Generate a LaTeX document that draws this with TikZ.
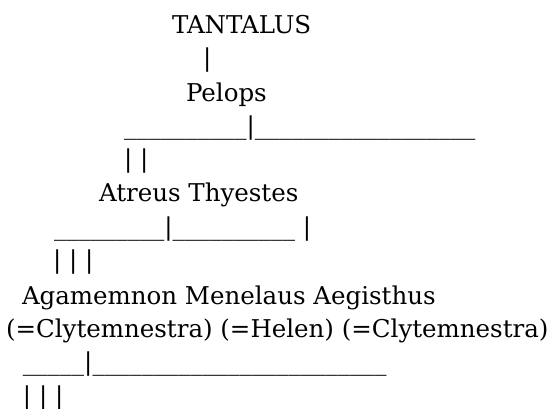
\documentclass[tikz,border=0pt]{standalone}
\usepackage{fontspec}
\setmainfont{DejaVu Serif}
\tikzset{
  line/.style={anchor=base west, inner sep=0pt, outer sep=0pt, font=\fontsize{24.5}{30}\selectfont}
}
\begin{document}
\begin{tikzpicture}[x=1pt,y=1pt]
\useasboundingbox (0,0) rectangle (552,409);
\node[line] (l1) at (172,{409-34}) {TANTALUS};
\node[line] (l2) at (203,{409-67}) {|};
\node[line] (l3) at (186,{409-102}) {Pelops};
\node[line] (l4) at (124,{409-135}) {\_\_\_\_\_\_\_\_\_\_|\_\_\_\_\_\_\_\_\_\_\_\_\_\_\_\_\_\_};
\node[line] (l5) at (124,{409-168}) {| |};
\node[line] (l6) at (99,{409-202}) {Atreus Thyestes};
\node[line] (l7) at (54,{409-236}) {\_\_\_\_\_\_\_\_\_|\_\_\_\_\_\_\_\_\_\_ |};
\node[line] (l8) at (53,{409-269}) {| | |};
\node[line] (l9) at (22,{409-305}) {Agamemnon Menelaus Aegisthus};
\node[line] (l10) at (6,{409-338}) {(=Clytemnestra) (=Helen) (=Clytemnestra)};
\node[line] (l11) at (23,{409-371}) {\_\_\_\_\_|\_\_\_\_\_\_\_\_\_\_\_\_\_\_\_\_\_\_\_\_\_\_\_\_};
\node[line] (l12) at (23,{409-405}) {| | |};
\end{tikzpicture}
\end{document}
